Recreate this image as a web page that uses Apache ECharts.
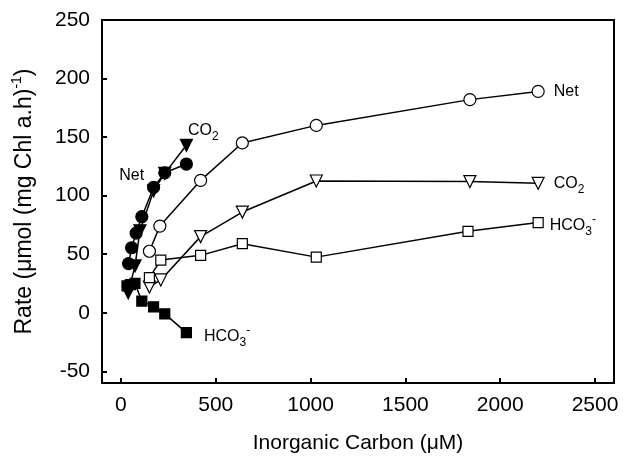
<!DOCTYPE html>
<html>
<head>
<meta charset="utf-8">
<script src="https://cdn.jsdelivr.net/npm/echarts@6/dist/echarts.min.js"></script>
<style>
  html, body { margin: 0; padding: 0; background: #fff; }
  #chart { width: 623px; height: 461px; }
</style>
</head>
<body>
<div id="chart"></div>
<script>
  // open symbols (long x range)
  const netOpenX = [150, 205, 420, 640, 1030, 1840, 2200];
  const netOpenY = [52.5, 74, 113, 145, 160, 182, 189];
  const co2OpenX = [150, 210, 420, 640, 1030, 1840, 2200];
  const co2OpenY = [22, 28, 65, 86, 112.5, 112, 110.5];
  const hco3OpenX = [150, 210, 420, 640, 1030, 1830, 2200];
  const hco3OpenY = [30, 45, 49, 59, 47.5, 69.5, 77];
  // filled symbols (short x range)
  const netFilledX = [40, 56, 80, 110, 172, 231, 345];
  const netFilledY = [42, 55.5, 68, 82, 107, 119.5, 127];
  const co2FilledX = [38, 74, 100, 172, 231, 345];
  const co2FilledY = [17, 40, 70, 104, 119, 143];
  const hco3FilledX = [32, 50, 74, 110, 172, 231, 345];
  const hco3FilledY = [23, 24, 25, 10, 5, -1, -17];
  // tick labels
  const xTicks = [0, 500, 1000, 1500, 2000, 2500];
  const yTicks = [-50, 0, 50, 100, 150, 200, 250];

  const font = 'Liberation Sans, Arial, sans-serif';
  const rich = {
    n: { fontSize: 16, fontFamily: font, color: '#000', lineHeight: 24, verticalAlign: 'middle' },
    sub: { fontSize: 12, fontFamily: font, color: '#000', lineHeight: 14, verticalAlign: 'bottom' },
    sup: { fontSize: 12, fontFamily: font, color: '#000', lineHeight: 14, verticalAlign: 'top' }
  };

  // build [x,y] pairs, with an optional label on one point
  function pairs(xs, ys, labelIdx, label) {
    return xs.map(function (x, i) {
      let item = { value: [x, ys[i]] };
      if (i === labelIdx) item.label = Object.assign({ show: true, rich: rich }, label);
      return item;
    });
  }

  function line(name, data, symbol, size, filled, rotate) {
    return {
      name: name,
      type: 'line',
      data: data,
      symbol: symbol,
      symbolSize: size,
      symbolRotate: rotate || 0,
      lineStyle: { color: '#000', width: 1.5 },
      itemStyle: { color: filled ? '#000' : '#fff', borderColor: '#000', borderWidth: 1.2 },
      label: { show: false },
      z: filled ? 3 : 2
    };
  }

  let myChart = echarts.init(document.getElementById('chart'));
  let option = {
    animation: false,
    grid: { left: 102, right: 9, top: 20, bottom: 78, show: true, borderColor: '#000', borderWidth: 2, backgroundColor: 'transparent' },
    xAxis: {
      type: 'value',
      min: -100,
      max: 2600,
      name: 'Inorganic Carbon (μM)',
      nameLocation: 'middle',
      nameGap: 50,
      nameTextStyle: { fontSize: 21, fontFamily: font, color: '#000' },
      axisLine: { onZero: false, lineStyle: { color: '#000', width: 2 } },
      axisTick: { inside: true, length: 5, lineStyle: { color: '#000', width: 2 }, customValues: xTicks },
      axisLabel: { fontSize: 21, fontFamily: font, color: '#000', margin: 12, customValues: xTicks, formatter: function (v) { return String(v); } },
      splitLine: { show: false }
    },
    yAxis: {
      type: 'value',
      min: -60,
      max: 250,
      name: '{t|Rate (μmol (mg Chl a.h)}{s|-1}{t|)}',
      nameLocation: 'middle',
      nameGap: 62,
      nameTextStyle: {
        rich: {
          t: { fontSize: 23, fontFamily: font, color: '#000', lineHeight: 30, verticalAlign: 'middle' },
          s: { fontSize: 14, fontFamily: font, color: '#000', lineHeight: 14, verticalAlign: 'top' }
        }
      },
      axisLine: { onZero: false, lineStyle: { color: '#000', width: 2 } },
      axisTick: { inside: true, length: 5, lineStyle: { color: '#000', width: 2 }, customValues: yTicks },
      axisLabel: { fontSize: 21, fontFamily: font, color: '#000', margin: 12, customValues: yTicks, formatter: function (v) { return String(v); } },
      splitLine: { show: false }
    },
    series: [
      line('Net open', pairs(netOpenX, netOpenY, 6, { position: 'right', distance: 9, formatter: '{n|Net}' }), 'circle', 12, false),
      line('CO2 open', pairs(co2OpenX, co2OpenY, 6, { position: 'right', distance: 9, formatter: '{n|CO}{sub|2}' }), 'triangle', 12, false, 180),
      line('HCO3 open', pairs(hco3OpenX, hco3OpenY, 6, { position: 'right', distance: 6, offset: [0, 3], formatter: '{n|HCO}{sub|3}{sup|-}' }), 'rect', 10, false),
      line('Net filled', pairs(netFilledX, netFilledY, 5, { position: 'left', distance: 16, offset: [2, 3], formatter: '{n|Net}' }), 'circle', 12, true),
      line('CO2 filled', pairs(co2FilledX, co2FilledY, 5, { position: 'right', distance: 0, offset: [-5, -15], formatter: '{n|CO}{sub|2}' }), 'triangle', 12, true, 180),
      line('HCO3 filled', pairs(hco3FilledX, hco3FilledY, 6, { position: 'right', distance: 12, offset: [0, 4], formatter: '{n|HCO}{sub|3}{sup|-}' }), 'rect', 10, true)
    ]
  };
  myChart.setOption(option);
</script>
</body>
</html>
